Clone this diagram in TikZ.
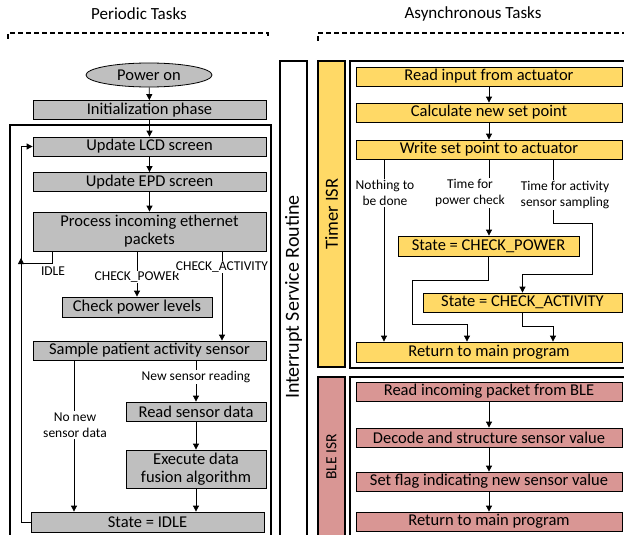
\documentclass[tikz,border=0pt]{standalone}
\usepackage{fontspec}
\setmainfont{Carlito}
\usetikzlibrary{shapes.geometric,arrows.meta}

\definecolor{boxgray}{HTML}{BFBFBF}
\definecolor{boxyellow}{HTML}{FFD966}
\definecolor{boxpink}{HTML}{D99694}

\tikzset{
  base/.style={draw, line width=0.8pt, inner sep=0pt, align=center,
    font=\fontsize{16.5}{18}\selectfont},
  gbox/.style={base, fill=boxgray},
  ybox/.style={base, fill=boxyellow},
  pbox/.style={base, fill=boxpink},
  arr/.style={line width=0.8pt, -{Triangle[length=6pt,width=6pt]}},
  frame/.style={line width=2pt},
  lbl/.style={fill=white, inner sep=1pt, align=center,
    font=\fontsize{13.5}{16.5}\selectfont},
  title/.style={font=\fontsize{17}{19}\selectfont},
  section/.style={line width=2pt, dash pattern=on 5pt off 3pt},
}

\begin{document}
\begin{tikzpicture}[x=1pt,y=-1pt]
\useasboundingbox (0,0) rectangle (624,535);
\clip (0,0) rectangle (624,535);

% section headings
\node[title] (tper) at (139,14) {Periodic Tasks};
\node[title] (tasy) at (473,14) {Asynchronous Tasks};
\draw[section] (8,39) -- (8,33) -- (268,33) -- (268,38);
\draw[section] (318,41) -- (318,33) -- (632,33);

% frames
\draw[frame] (10,125) rectangle (271,545);
\draw[frame] (280,61) rectangle (307,545);
\node[rotate=90, font=\fontsize{20}{22}\selectfont] (isr) at (293.5,297) {Interrupt Service Routine};
\draw[frame, fill=boxyellow] (318,61) rectangle (345,367);
\node[rotate=90, font=\fontsize{18.5}{20}\selectfont] (tisr) at (331.5,214) {Timer ISR};
\draw[frame] (350,61) rectangle (630,368);
\draw[frame, fill=boxpink] (318,377) rectangle (345,545);
\node[rotate=90, font=\fontsize{15.5}{17}\selectfont] (bisr) at (331.5,457) {BLE ISR};
\draw[frame] (350,377) rectangle (630,545);

% periodic tasks
\node[gbox, ellipse, minimum width=126pt, minimum height=24pt] (power) at (149,75) {Power on};
\node[gbox, minimum width=233pt, minimum height=19pt] (init) at (149.5,110) {Initialization phase};
\node[gbox, minimum width=233pt, minimum height=19pt] (lcd) at (149.5,146.5) {Update LCD screen};
\node[gbox, minimum width=233pt, minimum height=19pt] (epd) at (149.5,182) {Update EPD screen};
\node[gbox, minimum width=233pt, minimum height=39pt] (proc) at (149.5,231.5) {Process incoming ethernet\\packets};
\node[gbox, minimum width=150pt, minimum height=20pt] (chkpow) at (137,307) {Check power levels};
\node[gbox, minimum width=233pt, minimum height=19pt] (sample) at (149.5,350.5) {Sample patient activity sensor};
\node[gbox, minimum width=140pt, minimum height=19pt] (readsens) at (196,411.5) {Read sensor data};
\node[gbox, minimum width=140pt, minimum height=38pt] (fusion) at (196,469) {Execute data\\fusion algorithm};
\node[gbox, minimum width=233pt, minimum height=20pt] (idle) at (147.5,522) {State = IDLE};

\draw[arr] (power) -- (init);
\draw[arr] (init) -- (lcd);
\draw[arr] (lcd) -- (epd);
\draw[arr] (epd) -- (proc);
\draw[arr] (proc.south -| chkpow.north) -- (chkpow.north);
\node[lbl] (lchk) at (137,277) {CHECK\_POWER};
\draw[arr] ([xshift=72.5pt]proc.south) coordinate (pa) -- (pa |- sample.north);
\node[lbl] (lact) at (222,267) {CHECK\_ACTIVITY};
\coordinate (loopc) at (21,263);
\draw[arr] ([xshift=-97.5pt]proc.south) |- (loopc) |- (lcd.west);
\node[font=\fontsize{13.5}{16.5}\selectfont] (lidle) at (53,271) {IDLE};
\draw[arr] (idle.west) -| ([yshift=5pt]loopc);

\draw[arr] ([xshift=-75.5pt]sample.south) coordinate (nn) -- (nn |- idle.north);
\node[lbl] (lnone) at (75,425) {No new\\sensor data};
\draw[arr] ([xshift=46.5pt]sample.south) -- (readsens.north);
\node[lbl] (lnew) at (196,377) {New sensor reading};
\draw[arr] (readsens) -- (fusion);
\draw[arr] (fusion.south) -- (fusion.south |- idle.north);

% timer ISR
\node[ybox, minimum width=266pt, minimum height=19pt] (rdin) at (489,76.5) {Read input from actuator};
\node[ybox, minimum width=266pt, minimum height=19pt] (calc) at (489,112.5) {Calculate new set point};
\node[ybox, minimum width=266pt, minimum height=19pt] (write) at (489,149.5) {Write set point to actuator};
\node[ybox, minimum width=181pt, minimum height=20pt] (cpow) at (488.5,246) {State = CHECK\_POWER};
\node[ybox, minimum width=199pt, minimum height=19pt] (cact) at (522.5,302.5) {State = CHECK\_ACTIVITY};
\node[ybox, minimum width=266pt, minimum height=20pt] (tret) at (489,352) {Return to main program};

\draw[arr] (rdin) -- (calc);
\draw[arr] (calc) -- (write);
\draw[arr] ([xshift=-105pt]write.south) coordinate (w1) -- (w1 |- tret.north);
\node[lbl] (lnoth) at (385,193) {Nothing to\\be done};
\draw[arr] (write.south) -- (write.south |- cpow.north);
\node[lbl] (lpow) at (470,193) {Time for\\power check};
\draw[arr] ([xshift=64pt]write.south) -- ++(0,64) -- ++(39,0) -- ++(0,51) -| (cact.north);
\node[lbl] (lsamp) at (565,195) {Time for activity\\sensor sampling};
\draw[arr] (cpow.south) -- ++(0,24) -- ++(-76.5,0) -- ++(0,44) -| ([xshift=-22pt]tret.north);
\draw[arr] (cact.south) -- ++(0,14) -| ([xshift=64pt]tret.north);

% BLE ISR
\node[pbox, minimum width=266pt, minimum height=19pt] (b1) at (489,391.5) {Read incoming packet from BLE};
\node[pbox, minimum width=266pt, minimum height=19pt] (b2) at (489,437.5) {Decode and structure sensor value};
\node[pbox, minimum width=266pt, minimum height=19pt] (b3) at (489,481.5) {Set flag indicating new sensor value};
\node[pbox, minimum width=266pt, minimum height=19pt] (b4) at (489,521.5) {Return to main program};
\draw[arr] (b1) -- (b2);
\draw[arr] (b2) -- (b3);
\draw[arr] (b3) -- (b4);
\end{tikzpicture}
\end{document}
